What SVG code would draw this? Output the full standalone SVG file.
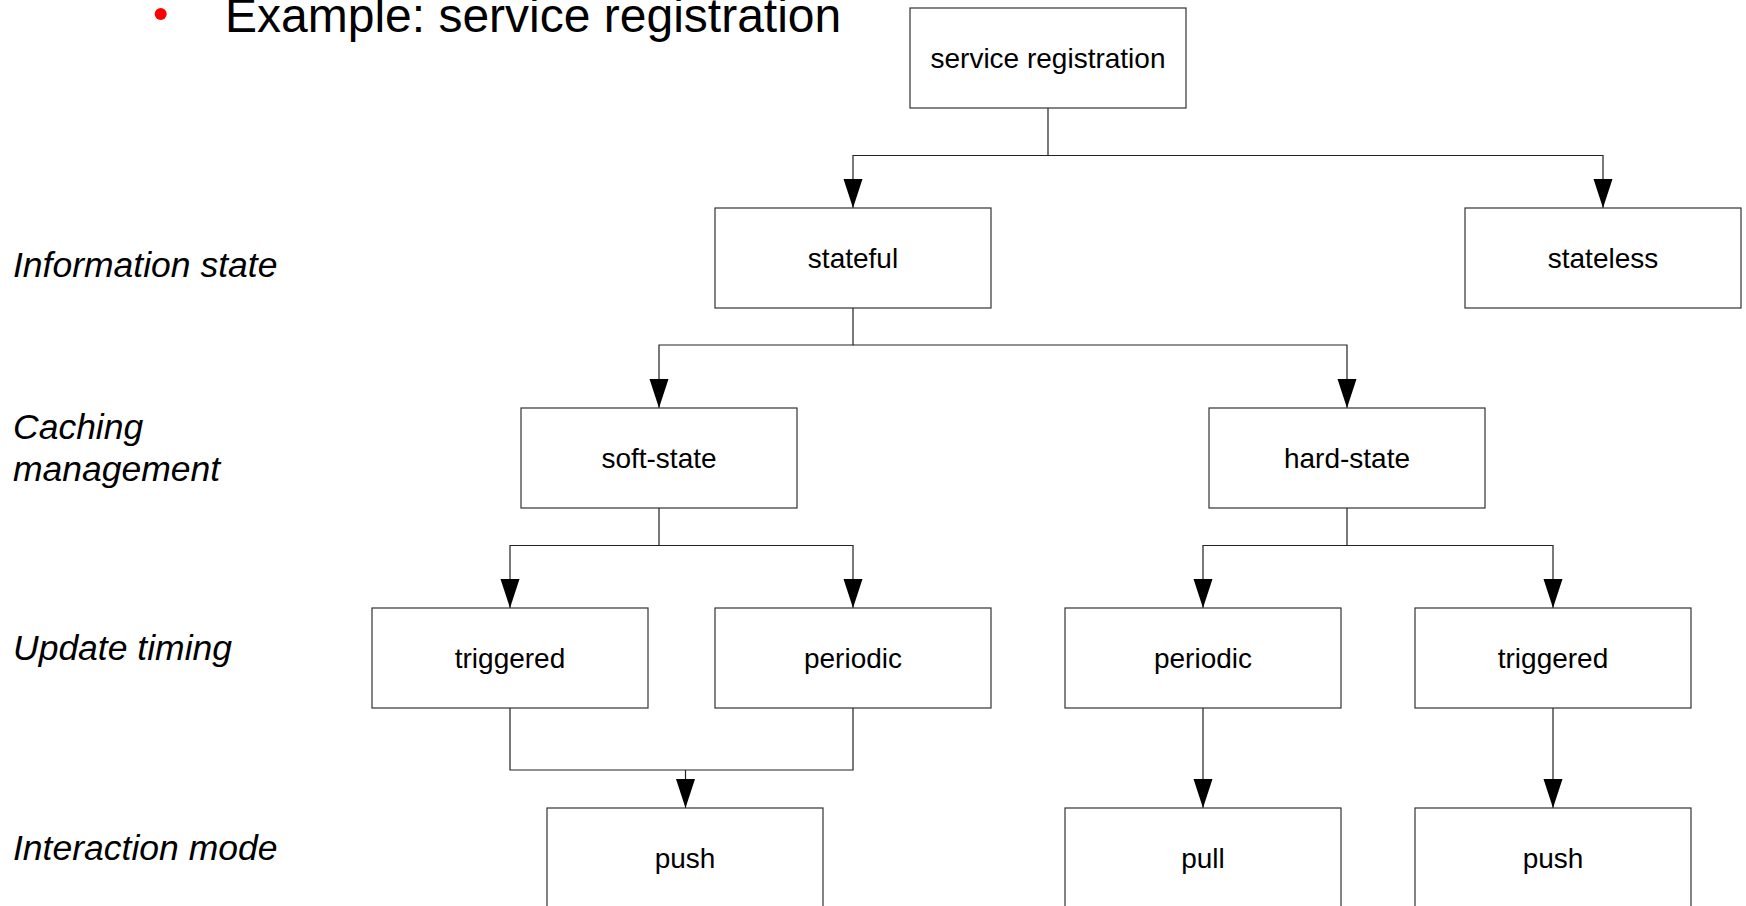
<svg xmlns="http://www.w3.org/2000/svg" width="1746" height="906" viewBox="0 0 1746 906">
<style>
.box{fill:#fff;stroke:#333;stroke-width:1.2}
.lbl{font-family:"Liberation Sans",Arial,sans-serif;font-size:28px;fill:#000;text-anchor:middle}
.side{font-family:"Liberation Sans",Arial,sans-serif;font-size:35.5px;font-style:italic;fill:#000}
.title{font-family:"Liberation Sans",Arial,sans-serif;font-size:48px;fill:#000}
.conn path{fill:none;stroke:#222;stroke-width:1.2}
</style>
<defs>
<marker id="arr" markerUnits="userSpaceOnUse" markerWidth="30" markerHeight="20" refX="29" refY="9.5" orient="auto">
<path d="M0,0 L29,9.5 L0,19 z" fill="#000"/>
</marker>
</defs>
<rect width="1746" height="906" fill="#fff"/>
<g id="heading">
<circle cx="160.7" cy="14" r="6" fill="#f00"/>
<text class="title" x="225" y="32">Example: service registration</text>
</g>
<g id="side-labels">
<text class="side" x="13" y="277">Information state</text>
<text class="side" x="13" y="439">Caching</text>
<text class="side" x="13" y="481">management</text>
<text class="side" x="13" y="660">Update timing</text>
<text class="side" x="13" y="860">Interaction mode</text>
</g>
<g class="conn" id="connectors">
<path d="M1048 108 V155.5 H853 V208" marker-end="url(#arr)"/>
<path d="M1048 155.5 H1603 V208" marker-end="url(#arr)"/>
<path d="M853 308 V345 H659 V408" marker-end="url(#arr)"/>
<path d="M853 345 H1347 V408" marker-end="url(#arr)"/>
<path d="M659 508 V545.5 H510 V608" marker-end="url(#arr)"/>
<path d="M659 545.5 H853 V608" marker-end="url(#arr)"/>
<path d="M1347 508 V545.5 H1203 V608" marker-end="url(#arr)"/>
<path d="M1347 545.5 H1553 V608" marker-end="url(#arr)"/>
<path d="M510 708 V770 H853 V708"/>
<path d="M685.5 770 V808" marker-end="url(#arr)"/>
<path d="M1203 708 V808" marker-end="url(#arr)"/>
<path d="M1553 708 V808" marker-end="url(#arr)"/>
</g>
<g id="n-service"><rect class="box" x="910" y="8" width="276" height="100"/><text class="lbl" x="1048" y="68">service registration</text></g>
<g id="n-stateful"><rect class="box" x="715" y="208" width="276" height="100"/><text class="lbl" x="853" y="268">stateful</text></g>
<g id="n-stateless"><rect class="box" x="1465" y="208" width="276" height="100"/><text class="lbl" x="1603" y="268">stateless</text></g>
<g id="n-soft"><rect class="box" x="521" y="408" width="276" height="100"/><text class="lbl" x="659" y="468">soft-state</text></g>
<g id="n-hard"><rect class="box" x="1209" y="408" width="276" height="100"/><text class="lbl" x="1347" y="468">hard-state</text></g>
<g id="n-trig1"><rect class="box" x="372" y="608" width="276" height="100"/><text class="lbl" x="510" y="668">triggered</text></g>
<g id="n-per1"><rect class="box" x="715" y="608" width="276" height="100"/><text class="lbl" x="853" y="668">periodic</text></g>
<g id="n-per2"><rect class="box" x="1065" y="608" width="276" height="100"/><text class="lbl" x="1203" y="668">periodic</text></g>
<g id="n-trig2"><rect class="box" x="1415" y="608" width="276" height="100"/><text class="lbl" x="1553" y="668">triggered</text></g>
<g id="n-push1"><rect class="box" x="547" y="808" width="276" height="100"/><text class="lbl" x="685" y="868">push</text></g>
<g id="n-pull"><rect class="box" x="1065" y="808" width="276" height="100"/><text class="lbl" x="1203" y="868">pull</text></g>
<g id="n-push2"><rect class="box" x="1415" y="808" width="276" height="100"/><text class="lbl" x="1553" y="868">push</text></g>
</svg>
